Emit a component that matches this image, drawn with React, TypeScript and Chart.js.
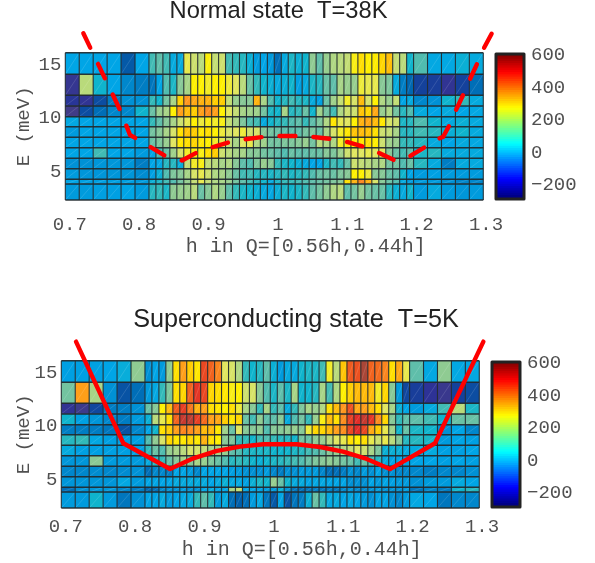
import React, { useEffect, useRef } from "react";
import { Chart, registerables } from "chart.js";

Chart.register(...registerables);

const hEdges = [
  0.6935, 0.7136, 0.7337, 0.7538, 0.7739, 0.794, 0.8141,
  0.8241, 0.8342, 0.8442, 0.8543, 0.8643, 0.8743, 0.8844, 0.8944, 0.9045, 0.9145,
  0.9245, 0.9346, 0.9446, 0.9547, 0.9647, 0.9747, 0.9848, 0.9948, 1.0049, 1.0149,
  1.0249, 1.035, 1.045, 1.0551, 1.0651, 1.0751, 1.0852, 1.0952, 1.1053, 1.1153,
  1.1253, 1.1354, 1.1454, 1.1555, 1.1655, 1.1755, 1.1856, 1.1956,
  1.2157, 1.2358, 1.2559, 1.276, 1.2961,
];
const eEdges = [16, 13.99, 12.02, 11.03, 10.02, 9.09, 8.1, 7.13, 6.14, 5.17, 4.17, 3.74, 2.24];

const hTicks = [0.7, 0.8, 0.9, 1, 1.1, 1.2, 1.3];
const eTicks = [5, 10, 15];
const colorTicks = [-200, 0, 200, 400, 600];

const normalRows = [
  [0,0,0,0,-90,0, 70,90,70,10,10,240,210,190,275,200, 210,70,60,50,20,-10,0,-10,-60,10, 40,20,30,140,90,150,180,190,200,270, 300,280,285,310,335,200,190,30, 80,5,5,20,10],
  [-200,190,30,0,-30,-40, -50,0,80,40,130,170,280,280,260,280, 280,250,230,190,100,60,30,20,10,20, 30,-5,10,40,50,100,90,170,150,150, 250,240,240,130,120,10,-40,-70, -130,-140,-190,-130,-60],
  [-170,-190,-110,-40,-20,-20, 60,30,110,170,320,380,360,350,350,320, 320,200,150,130,130,350,170,80,30,50, 70,50,40,10,-5,100,160,200,260,220, 340,220,280,180,150,200,0,10, -30,-20,30,60,10],
  [-230,-110,-60,-30,-30,30, 100,150,170,280,370,340,320,370,390,370, 280,230,200,170,160,160,110,40,30,170, 50,60,100,30,160,110,70,180,210,210, 330,310,360,150,180,110,50,80, 10,0,10,0,5],
  [5,0,0,0,0,0, 60,90,130,170,210,240,280,250,270,260, 270,200,170,120,80,70,10,30,50,60, 80,90,60,90,120,180,290,240,230,280, 350,360,340,290,220,210,40,50, 80,30,10,20,10],
  [-10,0,0,0,0,0, 110,130,170,220,300,330,320,290,300,280, 250,220,230,250,210,220,130,110,100,90, 90,90,110,120,100,170,220,260,290,330, 340,330,300,210,200,170,50,50, 70,50,20,30,10],
  [0,0,0,0,0,0, 100,120,150,230,290,300,310,290,280,260, 240,200,170,230,240,180,160,110,110,120, 120,130,150,110,190,180,180,260,290,280, 290,300,280,210,160,150,60,60, 50,10,0,10,5],
  [0,0,70,0,0,-10, 0,70,100,160,220,260,270,270,300,320, 210,190,170,170,130,130,110,100,90,80, 100,90,90,100,100,130,120,160,210,230, 230,240,230,230,130,100,70,90, 40,50,10,10,10],
  [-20,-20,-15,-15,-15,-40, 0,5,50,50,15,200,260,270,200,190, 170,180,130,90,80,120,150,130,60,40, 30,20,10,0,0,40,70,60,100,210, 200,190,170,180,110,110,80,100, 50,10,-40,10,10],
  [-10,-15,-15,-15,-15,-25, -5,20,80,120,130,170,220,240,210,180, 170,140,100,70,70,50,50,40,50,60, 40,50,60,80,100,110,100,120,130,280, 280,250,130,130,100,90,30,0, -10,-5,-10,-10,-10],
  [0,-5,-5,-5,-5,-10, 20,40,70,80,110,150,200,240,200,180, 170,150,110,90,70,50,30,10,40,60, 60,70,80,90,100,110,120,130,300,350, 400,350,220,130,100,80,10,-10, -10,-10,-20,-30,-30],
  [-10,-10,-5,-5,0,-10, 50,60,40,140,150,160,190,100,130,180, 150,90,60,40,30,20,10,5,20,40, 30,40,60,90,110,140,180,190,90,110, 150,110,100,100,50,20,10,30, -10,10,-10,-15,-10],
];

const superRows = [
  [-5,-5,-5,0,15,140, -20,0,-10,140,300,370,320,290,470,440, 400,230,220,180,60,30,50,90,20,-10, 10,10,30,40,40,70,260,190,330,450, 460,560,440,430,400,300,360,240, 90,5,140,5,5],
  [110,370,170,-20,-100,-60, -10,5,60,120,300,310,440,490,470,310, 300,290,270,280,210,220,130,80,40,90, 40,170,30,30,50,170,70,180,280,320, 340,340,340,260,310,130,-10,-120, -140,-180,-210,-130,-110],
  [-190,-220,-120,-40,-40,-20, 100,130,280,340,450,480,420,350,370,300, 290,280,300,250,170,130,60,170,60,90, 10,60,120,170,150,180,300,340,380,460, 360,370,340,300,230,170,20,0, -10,10,70,190,40],
  [30,-5,-15,-30,-40,-10, 20,190,240,300,440,530,540,480,430,370, 360,320,290,310,100,70,140,90,90,130, 10,80,110,60,150,270,340,300,390,480, 500,530,490,390,310,130,60,90, 90,70,30,100,100],
  [-40,-40,-40,-50,-100,-30, 0,30,300,320,370,400,390,370,340,340, 290,160,100,230,130,130,140,80,130,130, 140,150,130,250,310,310,340,370,390,470, 500,470,360,320,240,160,30,100, 40,30,-20,0,-30],
  [50,60,5,-5,-5,-5, 80,140,220,310,290,290,310,290,350,300, 280,130,120,60,60,30,70,80,60,50, 50,30,110,100,140,150,190,230,240,300, 280,300,240,210,240,190,130,50, 50,40,-10,0,-5],
  [10,-5,-5,-5,-5,-5, 60,100,80,150,170,190,220,220,200,170, 170,150,90,80,50,40,40,40,30,30, 30,40,50,70,80,100,130,150,180,200, 230,210,170,120,20,20,20,10, 10,10,-5,-5,0],
  [-15,-15,135,-10,-10,-10, 10,50,60,100,130,170,130,170,150,120, 100,80,50,60,50,30,20,30,40,50, 60,70,80,100,120,130,140,130,110,100, 70,100,70,50,10,0,0,0, 0,0,-5,0,-5],
  [-30,-30,-25,-30,-25,-20, -60,-30,-30,-40,0,0,-10,-30,0,0, 0,0,-5,-10,-20,-20,-20,-10,-30,-40, -20,-20,-10,-10,-10,-30,-60,-60,-40,-20, -30,-10,-20,0,-20,-20,-30,-30, -30,-40,-30,-30,-20],
  [-15,-15,-15,-15,5,-10, 0,0,0,0,10,10,10,10,10,0, 10,20,5,5,-5,20,40,30,150,100, 30,10,10,0,5,5,0,0,0,-20, -20,-20,0,-10,0,-5,-10,-10, -20,-10,-10,10,0],
  [-60,-20,-15,-15,-30,-40, -70,-60,-30,-20,-20,-10,-20,-20,0,10, 0,0,170,200,0,0,-5,-10,-10,20, -20,-50,-60,-50,-40,-50,-40,-50,-30,-20, -30,-30,-20,-10,-20,-20,-20,-10, -50,-30,-40,30,50],
  [-10,-10,30,-10,-50,-20, 0,0,10,-10,0,5,10,60,90,60, -10,10,-60,-80,-60,-10,5,-50,-90,0, -100,-50,-40,20,100,60,5,10,0,5, 0,-10,-20,0,0,-20,-30,-10, 5,0,-50,-30,-30],
];

const normalCurveH = [0.7195,0.7738,0.7868,0.7969,0.8401,0.8618,0.8848,0.9064,0.9309,0.9555,0.9785,1.003,1.029,1.0506,1.078,1.0997,1.1256,1.1458,1.1703,1.1905,1.215,1.2337,1.2381,1.2482,1.2568,1.2684,1.277,1.2885,1.2972,1.3087];
const normalCurveE = [17.82,10.46,8.31,7.94,6.26,5.93,6.73,7.19,7.66,7.94,8.13,8.22,8.22,8.13,7.94,7.66,7.19,6.63,5.88,6.35,7.29,8.03,8.13,9.34,10.65,12.24,13.55,15.14,16.45,17.85];
const superCurveH = [0.7147,0.7829,0.8502,0.8838,0.9176,0.9512,0.9847,0.9945,1.0329,1.0665,1.0997,1.1338,1.1674,1.2323,1.302];
const superCurveE = [17.78,8.29,5.88,6.88,7.57,7.97,8.19,8.19,8.19,7.94,7.5,6.82,5.88,8.29,17.78];

const colorStops: [number, number[]][] = [
  [-230,[65,60,135]],[-180,[45,50,150]],[-130,[20,65,155]],[-80,[0,95,170]],[-40,[0,125,195]],
  [0,[0,165,230]],[30,[15,180,205]],[60,[50,185,185]],[90,[95,190,170]],[130,[135,200,150]],
  [180,[175,215,130]],[230,[225,230,95]],[280,[255,240,0]],[320,[255,205,0]],[380,[255,150,30]],
  [450,[240,90,30]],[500,[225,45,40]],[560,[170,70,55]],
];

function cellColor(v: number) {
  if (v <= colorStops[0][0]) return `rgb(${colorStops[0][1].join(",")})`;
  for (let i = 1; i < colorStops.length; i++) {
    const [b, cb] = colorStops[i];
    const [a, ca] = colorStops[i - 1];
    if (v <= b) {
      const t = (v - a) / (b - a);
      return `rgb(${ca.map((c, k) => Math.round(c + (cb[k] - c) * t)).join(",")})`;
    }
  }
  return `rgb(${colorStops[colorStops.length - 1][1].join(",")})`;
}

function jet(t: number) {
  const f = (x: number) => Math.round(255 * Math.max(0, Math.min(1, 1.5 - Math.abs(4 * t - x))));
  return `rgb(${f(3)},${f(2)},${f(1)})`;
}

const monoFont = "'Liberation Mono', monospace";
const textGrey = "#505050";

function heatPlugin(rows: number[][]) {
  return {
    id: "heatCells",
    beforeDatasetsDraw(chart: any) {
      const { ctx, scales } = chart;
      const xs = hEdges.map((h) => scales.x.getPixelForValue(h));
      const ys = eEdges.map((e) => scales.y.getPixelForValue(e));
      ctx.save();
      rows.forEach((row, r) => {
        row.forEach((v, c) => {
          ctx.fillStyle = cellColor(v);
          ctx.fillRect(xs[c], ys[r], xs[c + 1] - xs[c], ys[r + 1] - ys[r]);
          ctx.strokeStyle = "rgba(255,255,255,0.22)";
          ctx.lineWidth = 0.6;
          ctx.beginPath();
          ctx.moveTo(xs[c], ys[r + 1]);
          ctx.lineTo(xs[c + 1], ys[r]);
          ctx.stroke();
        });
      });
      ctx.strokeStyle = "rgba(30,40,45,0.92)";
      ctx.lineWidth = 1.5;
      ctx.beginPath();
      ys.forEach((y) => {
        ctx.moveTo(xs[0], y);
        ctx.lineTo(xs[xs.length - 1], y);
      });
      ctx.stroke();
      ctx.lineWidth = 1.1;
      ctx.beginPath();
      xs.forEach((x) => {
        ctx.moveTo(x, ys[0]);
        ctx.lineTo(x, ys[ys.length - 1]);
      });
      ctx.stroke();
      ctx.restore();
    },
  };
}

interface PanelProps {
  title: string;
  titleSize: number;
  rows: number[][];
  curveH: number[];
  curveE: number[];
  dash: number[];
  width: number;
  height: number;
  top: number;
  plotLeft: number;
  plotRight: number;
  plotTop: number;
  plotBottom: number;
  tickPad: number;
  labelPad: number;
}

function HeatPanel(p: PanelProps) {
  const ref = useRef<HTMLCanvasElement>(null);
  useEffect(() => {
    const chart = new Chart(ref.current as HTMLCanvasElement, {
      type: "scatter",
      data: {
        datasets: [
          {
            data: p.curveH.map((x, i) => ({ x, y: p.curveE[i] })),
            showLine: true,
            pointRadius: 0,
            borderColor: "#fe0000",
            borderWidth: 4.4,
            borderDash: p.dash,
            borderCapStyle: "round",
            borderJoinStyle: "round",
            clip: false,
          } as any,
        ],
      },
      options: {
        animation: false,
        responsive: false,
        layout: { autoPadding: false, padding: 0 },
        plugins: {
          legend: { display: false },
          tooltip: { enabled: false },
          title: {
            display: true,
            text: p.title,
            color: "#222222",
            font: { family: "'Liberation Sans', Arial, sans-serif", size: p.titleSize, weight: "normal", lineHeight: 1 },
            padding: { top: 0, bottom: p.plotTop - p.top - p.titleSize },
          },
        },
        scales: {
          x: {
            type: "linear",
            min: 0.6935,
            max: 1.3,
            afterFit: (s: any) => {
              s.height = p.height - (p.plotBottom - p.top);
            },
            afterBuildTicks: (s: any) => {
              s.ticks = hTicks.map((value) => ({ value }));
            },
            grid: { display: false, drawTicks: false },
            border: { display: false },
            ticks: {
              autoSkip: false,
              maxRotation: 0,
              padding: p.tickPad,
              color: textGrey,
              font: { family: monoFont, size: 19 },
              callback: (v: any) => String(v),
            },
            title: {
              display: true,
              text: "\u00a0\u00a0\u00a0\u00a0\u00a0h in Q=[0.56h,0.44h]",
              color: textGrey,
              font: { family: monoFont, size: 20, lineHeight: 1.2 },
              padding: { top: 0, bottom: p.labelPad },
            },
          },
          y: {
            type: "linear",
            min: 2.24,
            max: 16,
            afterFit: (s: any) => {
              s.width = p.plotLeft;
            },
            afterBuildTicks: (s: any) => {
              s.ticks = eTicks.map((value) => ({ value }));
            },
            grid: { display: false, drawTicks: false },
            border: { display: false },
            ticks: {
              autoSkip: false,
              padding: 4,
              labelOffset: 1.5,
              color: textGrey,
              font: { family: monoFont, size: 19 },
              callback: (v: any) => String(v),
            },
            title: {
              display: true,
              text: "E (meV)",
              color: textGrey,
              font: { family: monoFont, size: 19, lineHeight: 1.2 },
              padding: { top: 13, bottom: 0 },
            },
          },
          yRightSpace: {
            type: "linear",
            position: "right",
            min: 0,
            max: 1,
            afterFit: (s: any) => {
              s.width = p.width - p.plotRight;
            },
            grid: { display: false, drawTicks: false },
            border: { display: false },
            ticks: { display: false },
          },
        },
      },
      plugins: [heatPlugin(p.rows)],
    } as any);
    return () => chart.destroy();
  }, []);
  return (
    <canvas
      ref={ref}
      width={p.width}
      height={p.height}
      style={{ position: "absolute", left: 0, top: p.top, width: p.width, height: p.height }}
    />
  );
}

const colorMin = -280;
const colorMax = 602;

function ColorBar({ left, top }: { left: number; top: number }) {
  const ref = useRef<HTMLCanvasElement>(null);
  useEffect(() => {
    const n = 64;
    const step = (colorMax - colorMin) / n;
    const datasets = Array.from({ length: n }, (_, i) => ({
      data: [[colorMin + i * step, colorMin + (i + 1) * step + step * 0.2]],
      backgroundColor: jet((i + 0.5) / n),
      borderWidth: 0,
      barPercentage: 1,
      categoryPercentage: 1,
      grouped: false,
    }));
    const chart = new Chart(ref.current as HTMLCanvasElement, {
      type: "bar",
      data: { labels: [""], datasets },
      options: {
        animation: false,
        responsive: false,
        layout: { autoPadding: false, padding: { left: 7, top: 24, bottom: 24, right: 0 } },
        plugins: { legend: { display: false }, tooltip: { enabled: false } },
        scales: {
          x: { display: false, type: "category" },
          y: {
            position: "right",
            min: colorMin,
            max: colorMax,
            afterFit: (s: any) => {
              s.width = 72;
            },
            afterBuildTicks: (s: any) => {
              s.ticks = colorTicks.map((value) => ({ value }));
            },
            grid: { display: false, drawTicks: false },
            border: { display: false },
            ticks: {
              autoSkip: false,
              padding: 8,
              color: textGrey,
              font: { family: monoFont, size: 19 },
              callback: (v: any) => String(v).replace("-", "\u2212"),
            },
          },
        },
      },
      plugins: [
        {
          id: "barFrame",
          afterDatasetsDraw(c: any) {
            const { ctx, chartArea: a } = c;
            ctx.save();
            ctx.strokeStyle = "#222222";
            ctx.lineWidth = 3;
            ctx.lineJoin = "round";
            ctx.strokeRect(a.left - 1, a.top - 1, a.right - a.left + 2, a.bottom - a.top + 2);
            ctx.restore();
          },
        },
      ],
    } as any);
    return () => chart.destroy();
  }, []);
  return (
    <canvas
      ref={ref}
      width={105}
      height={191}
      style={{ position: "absolute", left, top, width: 105, height: 191 }}
    />
  );
}

export default function App() {
  return (
    <div style={{ position: "fixed", left: 0, top: 0, width: 595, height: 563, overflow: "hidden", background: "#fff" }}>
      <HeatPanel
        title={"Normal state  T=38K"}
        titleSize={23.7}
        rows={normalRows}
        curveH={normalCurveH}
        curveE={normalCurveE}
        dash={[16, 18]}
        width={557}
        height={290}
        top={0}
        plotLeft={65.3}
        plotRight={486}
        plotTop={52.7}
        plotBottom={200}
        tickPad={14}
        labelPad={31}
      />
      <ColorBar left={490} top={31} />
      <HeatPanel
        title={"Superconducting state  T=5K"}
        titleSize={25.2}
        rows={superRows}
        curveH={superCurveH}
        curveE={superCurveE}
        dash={[]}
        width={592}
        height={256}
        top={307}
        plotLeft={61.3}
        plotRight={482}
        plotTop={360.7}
        plotBottom={508}
        tickPad={8}
        labelPad={1}
      />
      <ColorBar left={486} top={339} />
    </div>
  );
}
